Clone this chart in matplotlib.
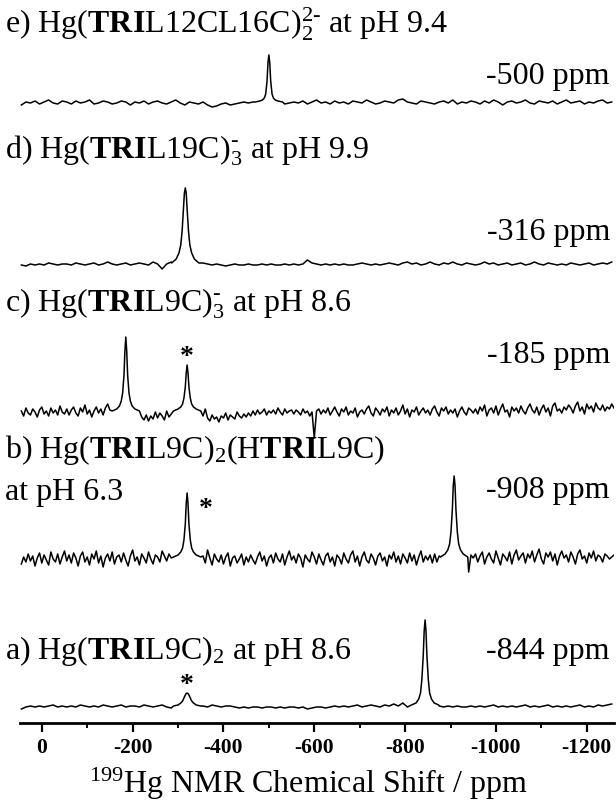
import numpy as np
import matplotlib
matplotlib.use("Agg")
import matplotlib.pyplot as plt
from matplotlib.ticker import MultipleLocator

plt.rcParams.update({
    "font.family": "Liberation Serif",
    "mathtext.fontset": "custom",
    "mathtext.rm": "Liberation Serif",
    "mathtext.bf": "Liberation Serif:bold",
    "mathtext.it": "Liberation Serif:italic",
    "axes.unicode_minus": False,
})

# ---------------------------------------------------------------- data
# chemical-shift sampling grids (ppm)
grid_coarse = np.arange(45, -1256, -10)    # 131 points
grid_fine = np.arange(45, -1261, -5)       # 262 points

# offsets (ppm) of the tabulated points across each resonance
peak_offsets = np.array([-30, -20, -14, -10, -7, -4, -2, 0, 2, 4, 7, 10, 14, 20, 30])

# e) Hg(TRIL12CL16C)2 2-  (baseline, coarse grid)
e_base = [
    -2, 1, 0, 2, -1, 1, 3, 0, -1, 2,
    1, -1, 2, 0, 1, 3, -1, 0, 2, 1,
    -1, 0, 2, 1, -2, 1, 0, 2, -1, 1,
    2, 0, -1, 1, 3, 0, -2, 1, 0, -1,
    1, -2, -4, -3, -1, 0, -2, -1, 0, 1,
    0, 1, 0, 0, 0, 0, 0, 0, -1, 0,
    1, 0, 2, -1, 1, 3, 0, 1, -1, 2,
    0, 1, -1, 2, 1, 0, 3, 1, -1, 0,
    2, 1, 0, 3, 4, 1, 0, -1, 2, 1,
    0, -1, 1, 2, 0, 3, -1, 1, 0, 2,
    1, -1, 2, 0, 3, 1, -2, 1, 2, 0,
    1, 3, 0, -1, 2, 1, 0, 2, -1, 1,
    3, 0, 1, 2, -1, 1, 0, 2, 3, 0, 1,
]
e_shift = -500
e_peak = [1, 2, 3, 5, 9, 22, 40, 48, 40, 22, 9, 5, 3, 2, 1]

# d) Hg(TRIL19C)3-  (baseline, coarse grid)
d_base = [
    0, -1, 1, 0, 1, 0, 2, 1, 0, 1,
    1, 0, 2, 1, 0, 1, 2, 0, 1, 3,
    1, 0, 1, 2, 0, 1, 2, 1, 0, 3,
    1, -4, 1, 3, 0, 0, 0, 0, 0, 0,
    2, 1, 0, 1, 0, -1, 0, 1, 0, 0,
    1, 0, 0, 1, 0, 1, 0, 0, 1, 0,
    1, 0, 1, 5, 2, 1, 0, 1, 0, 1,
    0, 1, 0, 0, 1, 2, 1, 0, 1, 0,
    1, 2, 1, 0, 2, 3, 1, 2, 0, 1,
    3, 1, 0, 2, 1, 3, 1, 0, 2, 1,
    0, 1, 3, 1, 2, 0, 1, 2, 0, 1,
    2, 0, 1, 3, 1, 0, 2, 1, 0, 1,
    0, 2, 1, 0, 1, 2, 0, 1, 2, 1, 3,
]
d_shift = -316
d_peak = [2, 6, 12, 20, 34, 56, 72, 77, 72, 56, 34, 20, 12, 6, 2]

# c) Hg(TRIL9C)3-  (baseline, fine grid)
c_base = [
    2, -3, 5, 0, -2, 4, 1, -4, 3, 6, -1, 2, -3, 5, 0, 3, -2, 7, 1, -1,
    4, -2, 3, 6, 0, -3, 5, 1, 8, -1, 3, -4, 2, 6, 0, 4, -2, 5, 9, 3,
    0, 0, 0, 0, 0, 0, 0, 0, 0, 0, 0, 0, 0, -4, -7, -2, -8, -3, -6, 1,
    -5, 0, -3, -7, 2, -4, -1, 0, 0, 0, 0, 0, 0, 0, 0, 0, 0, 0, 0, 0,
    -3, 4, -5, -8, -2, -6, -4, -9, -3, -5, 0, -7, -2, -4, -6, 1, -3, -5, -1, -4,
    0, -3, 2, -2, 3, -1, 1, 4, -2, 2, 0, 3, -1, 5, 1, -2, 4, 0, 2, 3,
    -1, 3, 1, -2, 4, 0, 2, -3, 1, -25, 2, 4, -1, 3, 0, 5, -2, 2, 6, 1,
    -3, 4, 1, 6, -2, 2, 0, 5, -4, 1, 3, -1, 4, 7, 0, -3, 5, 2, -2, 4,
    1, 6, -3, 3, 0, 5, -2, 2, 8, -1, 4, -4, 3, 1, 6, -2, 2, 5, 0, 3,
    -2, 4, 7, 1, -3, 5, 2, 6, -1, 3, 0, 4, -4, 2, 6, 1, -2, 5, 3, 0,
    4, -1, 6, 2, 8, -3, 3, 5, 0, 7, -2, 4, 9, 1, 3, -4, 6, 2, 5, 0,
    7, 2, -1, 5, 9, 3, 0, 6, -2, 4, 8, 1, 5, -3, 7, 10, 2, 4, 0, 6,
    3, 8, 5, 0, 7, 11, 2, 6, -1, 9, 4, 7, 1, 10, 5, 3, 8, 2, 6, 4,
    9, 5,
]
c_shift = -185
c_peak = [2, 4, 7, 12, 20, 38, 62, 76, 62, 38, 20, 12, 7, 4, 2]
c_star_shift = -320
c_star_peak = [2, 4, 6, 9, 15, 26, 40, 48, 40, 26, 15, 9, 6, 4, 2]

# b) Hg(TRIL9C)2(HTRIL9C)  (baseline, fine grid)
b_base = [
    -4, 3, -2, 6, -1, 4, -6, 2, 7, -3, 5, 0, -5, 8, 1, -2, 6, -4, 3, 9,
    -1, 5, -3, 7, 2, -6, 4, 8, -2, 3, -5, 6, 1, 9, -3, 4, -7, 2, 6, -1,
    8, -4, 3, 5, -2, 7, 0, -6, 4, 10, -1, 3, -5, 6, 2, -3, 8, 1, -4, 5,
    3, -2, 9, 4, -1, 6, 2, 0, 0, 0, 0, 0, 0, 0, 0, 0, 0, 0, 0, 0,
    4, -3, 10, 2, -5, 6, 1, -2, 5, -4, 3, 7, -6, 2, 4, -3, 1, 6, -5, 3,
    -2, 5, 0, -4, 3, 8, -1, 4, -6, 2, 5, -3, 7, 1, -2, 6, -5, 3, 9, 0,
    4, -3, 6, 2, -7, 5, 1, -2, 8, 3, -4, 6, 0, -5, 4, 7, -2, 3, -6, 5,
    2, -4, 7, 1, -3, 5, 9, -2, 4, -6, 3, 8, 0, -3, 6, 2, -5, 4, 7, -1,
    3, -6, 5, 1, 8, -2, 4, -4, 6, 2, -3, 7, -1, 5, -5, 3, 9, -2, 4, 0,
    5, -3, 6, -2, 4, 0, 0, 0, 0, 0, 0, 0, 0, 0, 0, 0, 0, -12, 5, 2,
    6, -2, 4, 8, -4, 3, 7, 1, -3, 9, 2, -5, 6, 3, -1, 8, -4, 5, 10, 0,
    4, 7, -3, 6, 2, 9, -2, 5, 11, 1, -4, 7, 3, 8, -1, 6, -5, 4, 9, 2,
    5, -2, 8, 3, -4, 6, 10, 1, 4, -3, 7, 2, 9, -1, 5, 3, -2, 6, 4, 1,
    3, 5,
]
b_star_shift = -320
b_star_peak = [3, 5, 8, 12, 20, 36, 56, 67, 56, 36, 20, 12, 8, 5, 3]
b_shift = -908
b_peak = [3, 6, 10, 16, 28, 50, 74, 84, 74, 50, 28, 16, 10, 6, 3]

# a) Hg(TRIL9C)2  (baseline, coarse grid)
a_base = [
    -2, 0, 1, 0, 1, 0, 1, 2, 0, 1,
    0, 1, 0, 2, 1, 0, 1, 0, 2, 1,
    0, 1, 2, 0, 1, 1, 0, 2, 1, 0,
    1, 2, 0, -1, 0, 0, 0, 0, 0, 0,
    1, 0, 2, 1, 0, 1, 1, 0, -1, 0,
    -1, 0, 0, -1, 0, 0, -1, 0, -1, 0,
    0, -1, 0, -2, -1, 0, 0, -1, 0, 1,
    0, 1, 0, 1, 2, 0, 1, 2, 1, 0,
    2, 1, 3, 1, 4, 0, 0, 0, 0, 0,
    0, 0, 1, 0, 1, 0, 1, 0, 0, 1,
    0, 1, 0, 1, 2, 0, 1, 0, 1, 0,
    1, 2, 0, 1, 0, 1, 2, 0, 1, 0,
    1, 0, 1, 2, 0, 1, 0, 2, 1, 2, 3,
]
a_star_shift = -320
a_star_peak = [1, 2, 4, 6, 9, 12, 13.5, 14, 13.5, 12, 9, 6, 4, 2, 1]
a_shift = -844
a_peak = [2, 4, 8, 14, 28, 52, 76, 87, 76, 52, 28, 14, 8, 4, 2]

tick_values = [0, -200, -400, -600, -800, -1000, -1200]
tick_labels = ["0", "-200", "-400", "-600", "-800", "-1000", "-1200"]


def spectrum(grid, base, peaks):
    """Merge a tabulated baseline with tabulated resonances."""
    grid = np.asarray(grid, float)
    base = np.asarray(base, float)
    half = np.abs(peak_offsets).max()
    keep = np.ones(grid.size, bool)
    xs, ys = [], []
    for centre, vals in peaks:
        keep &= np.abs(grid - centre) > half
        xs.append(centre + peak_offsets)
        ys.append(np.asarray(vals, float))
    x = np.concatenate([grid[keep]] + xs)
    y = np.concatenate([base[keep]] + ys)
    order = np.argsort(-x)
    return x[order], y[order]


# ---------------------------------------------------------------- figure
W, H = 616, 801
fig = plt.figure(figsize=(W / 100, H / 100), dpi=100)
ax = fig.add_axes([20 / W, 78 / H, 594 / W, 723 / H])

traces = [
    (spectrum(grid_coarse, e_base, [(e_shift, e_peak)]), 620),
    (spectrum(grid_coarse, d_base, [(d_shift, d_peak)]), 458),
    (spectrum(grid_fine, c_base, [(c_shift, c_peak), (c_star_shift, c_star_peak)]), 310),
    (spectrum(grid_fine, b_base, [(b_star_shift, b_star_peak), (b_shift, b_peak)]), 163),
    (spectrum(grid_coarse, a_base, [(a_star_shift, a_star_peak), (a_shift, a_peak)]), 16),
]
for (x, y), offset in traces:
    ax.plot(x, y + offset, color="black", lw=1.1, solid_joinstyle="round")

ax.set_xlim(48, -1260)
ax.set_ylim(0, 723)
ax.set_yticks([])
for side in ("top", "left", "right"):
    ax.spines[side].set_visible(False)
ax.spines["bottom"].set_linewidth(2.0)
ax.set_xticks(tick_values)
ax.set_xticklabels(tick_labels, fontsize=15.5, fontweight="bold")
ax.xaxis.set_minor_locator(MultipleLocator(100))
ax.tick_params(axis="x", which="major", direction="out", length=6.5, width=1.6, pad=4)
ax.tick_params(axis="x", which="minor", direction="out", length=3.5, width=1.4)
ax.patch.set_alpha(0)

# asterisks marking the impurity resonance
star_kw = dict(ha="center", va="center", fontsize=20, fontweight="bold")
ax.text(-320, 365, "*", **star_kw)
ax.text(-361, 213, "*", **star_kw)
ax.text(-320, 38, "*", **star_kw)


def put(x, y, s, **kw):
    fig.text(x / W, 1 - y / H, s, **kw)


fs = 23
put(5, 33, r"e) Hg($\mathbf{TRI}$L12CL16C)$_2^{2\text{-}}$ at pH 9.4", fontsize=fs, va="baseline")
put(610, 84, "-500 ppm", fontsize=fs, ha="right", va="baseline")
put(5, 158, r"d) Hg($\mathbf{TRI}$L19C)$_3^{\text{-}}$ at pH 9.9", fontsize=fs, va="baseline")
put(610, 240, "-316 ppm", fontsize=fs, ha="right", va="baseline")
put(5, 311, r"c) Hg($\mathbf{TRI}$L9C)$_3^{\text{-}}$ at pH 8.6", fontsize=fs, va="baseline")
put(610, 363, "-185 ppm", fontsize=fs, ha="right", va="baseline")
put(5, 458, r"b) Hg($\mathbf{TRI}$L9C)$_2$(H$\mathbf{TRI}$L9C)", fontsize=fs, va="baseline")
put(5, 500, "at pH 6.3", fontsize=fs, va="baseline")
put(610, 498, "-908 ppm", fontsize=fs, ha="right", va="baseline")
put(5, 659, r"a) Hg($\mathbf{TRI}$L9C)$_2$ at pH 8.6", fontsize=fs, va="baseline")
put(610, 659, "-844 ppm", fontsize=fs, ha="right", va="baseline")
put(308, 793, r"$^{199}$Hg NMR Chemical Shift / ppm", fontsize=fs, ha="center", va="baseline")

fig.savefig("out.png", dpi=100)
